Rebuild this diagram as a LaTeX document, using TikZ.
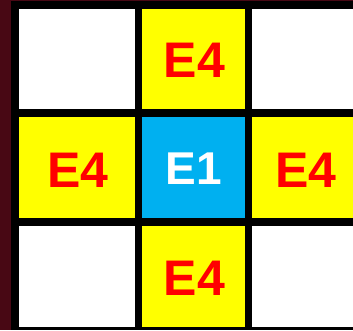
\documentclass[tikz,border=0pt]{standalone}
\usepackage{fontspec}
\setmainfont{Liberation Sans}
\definecolor{maroon}{HTML}{480814}
\definecolor{cblue}{HTML}{00B0F0}
\definecolor{cyel}{HTML}{FFFF00}
\definecolor{cred}{HTML}{FF0000}
\tikzset{
  lbl/.style={inner sep=0pt},
  e4/.style={lbl, font=\fontsize{50}{54}\selectfont\bfseries, text=cred},
  e1/.style={lbl, font=\fontsize{46}{50}\selectfont\bfseries, text=white}
}
\begin{document}
\begin{tikzpicture}[x=1pt,y=-1pt]
\useasboundingbox (0,0) rectangle (353,330);
\fill[black] (0,0) rectangle (353,330);
\fill[maroon] (0,0) rectangle (11,330);
\fill[maroon] (0,0) rectangle (353,1);
% row 1
\fill[white] (19,9) rectangle (135,109);
\fill[cyel] (142,9) rectangle (245,109);
\fill[white] (252,9) rectangle (353,109);
% row 2
\fill[cyel] (19,117) rectangle (135,218);
\fill[cblue] (142,117) rectangle (245,218);
\fill[cyel] (252,117) rectangle (353,218);
% row 3
\fill[white] (19,226) rectangle (135,327);
\fill[cyel] (142,226) rectangle (245,327);
\fill[white] (252,226) rectangle (353,327);
\node[e4] (t) at (194.5,60.5) {E4};
\node[e4] (l) at (78,170) {E4};
\node[e1] (c) at (193.5,168.5) {E1};
\node[e4] (r) at (306,170) {E4};
\node[e4] (b) at (194.5,278) {E4};
\end{tikzpicture}
\end{document}
